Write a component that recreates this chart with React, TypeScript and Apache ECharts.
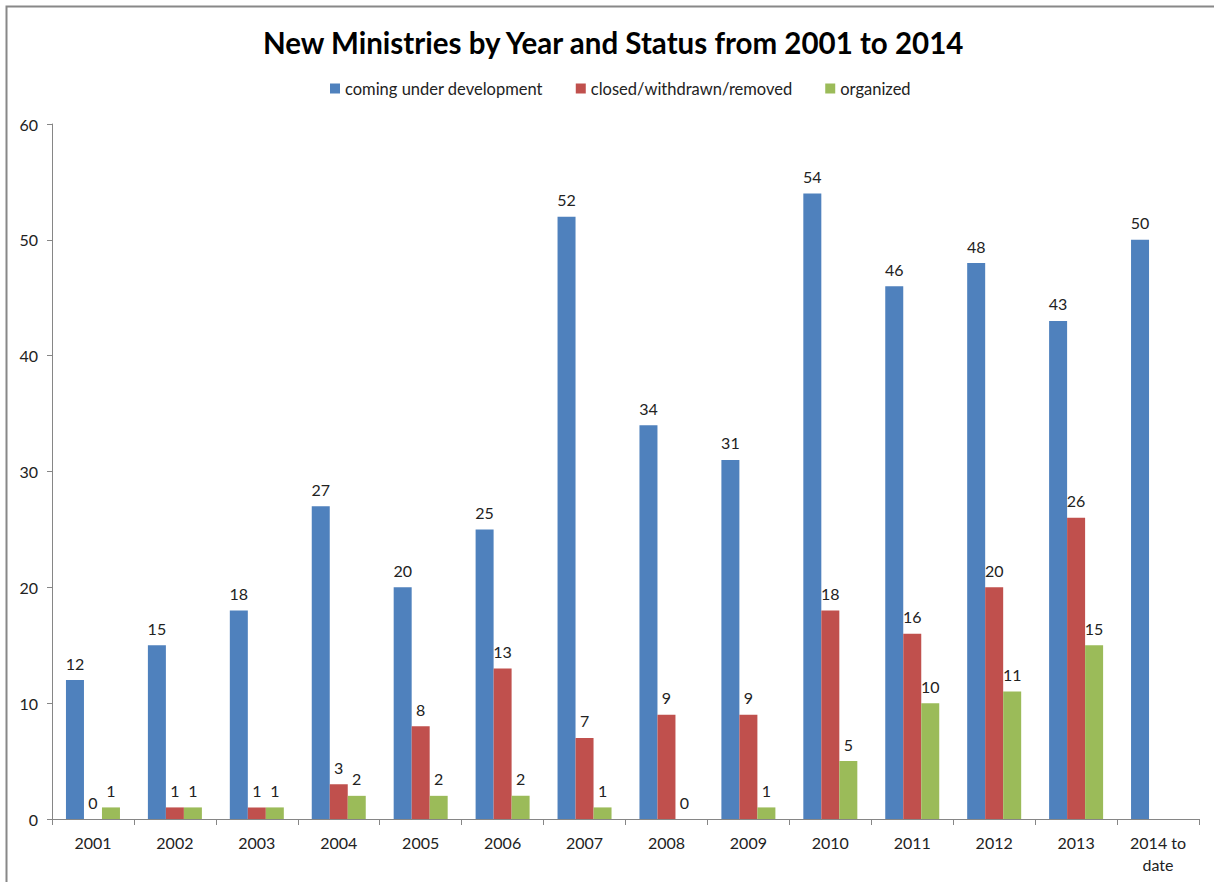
import React, { useEffect, useRef } from "react";
import * as echarts from "echarts";

const categories = ["2001", "2002", "2003", "2004", "2005", "2006", "2007", "2008", "2009", "2010", "2011", "2012", "2013", "2014 to\ndate"];
const coming = [12, 15, 18, 27, 20, 25, 52, 34, 31, 54, 46, 48, 43, 50];
const closed = [0, 1, 1, 3, 8, 13, 7, 9, 9, 18, 16, 20, 26, null];
const organized = [1, 1, 1, 2, 2, 2, 1, 0, 1, 5, 10, 11, 15, null];
const seriesNames = ["coming under development", "closed/withdrawn/removed", "organized"];
const colors = ["#4F81BD", "#C0504D", "#9BBB59"];
const yTicks = { min: 0, max: 60, interval: 10 };

const FONT = "Lato, 'Open Sans', sans-serif";

export default function App() {
  const ref = useRef<HTMLDivElement>(null);
  useEffect(() => {
    const chart = echarts.init(ref.current!, null, { renderer: "svg" });
    const mk = (name: string, data: (number | null)[], color: string) => ({
      name,
      type: "bar",
      data,
      barWidth: 18,
      barGap: "0%",
      itemStyle: { color },
      label: {
        show: true,
        position: "top",
        distance: 9,
        color: "#222",
        fontSize: 16,
        fontFamily: FONT,
      },
    });
    chart.setOption({
      animation: false,
      backgroundColor: "#fff",
      title: {
        text: "New Ministries by Year and Status from 2001 to 2014",
        left: 258,
        top: 22,
        textStyle: { fontSize: 29.5, fontWeight: "bold", color: "#000", fontFamily: FONT },
      },
      legend: {
        top: 75,
        left: 325,
        itemWidth: 10,
        itemHeight: 10,
        itemGap: 33,
        icon: "rect",
        textStyle: { fontSize: 16.5, color: "#222", fontFamily: FONT },
        data: seriesNames,
      },
      graphic: [
        {
          type: "rect",
          shape: { x: 6.5, y: 6.5, width: 1300, height: 1000 },
          style: { fill: "none", stroke: "#888", lineWidth: 2 },
          silent: true,
        },
      ],
      grid: { left: 52, right: 15, top: 124, bottom: 63, containLabel: false },
      xAxis: {
        type: "category",
        data: categories,
        axisLine: { lineStyle: { color: "#868686" } },
        axisTick: { show: true, length: 6, alignWithLabel: false, lineStyle: { color: "#868686" } },
        axisLabel: { color: "#222", fontSize: 16, fontFamily: FONT, margin: 12, lineHeight: 22, interval: 0 },
      },
      yAxis: {
        type: "value",
        min: yTicks.min,
        max: yTicks.max,
        interval: yTicks.interval,
        splitLine: { show: false },
        axisLine: { show: true, lineStyle: { color: "#868686" } },
        axisTick: { show: true, length: 5, lineStyle: { color: "#868686" } },
        axisLabel: { color: "#222", fontSize: 16, fontFamily: FONT, margin: 14 },
      },
      series: [
        mk(seriesNames[0], coming, colors[0]),
        mk(seriesNames[1], closed, colors[1]),
        mk(seriesNames[2], organized, colors[2]),
      ],
    });
    return () => chart.dispose();
  }, []);
  return (
    <div
      ref={ref}
      style={{ position: "absolute", left: 0, top: 0, width: 1214, height: 882 }}
    />
  );
}
